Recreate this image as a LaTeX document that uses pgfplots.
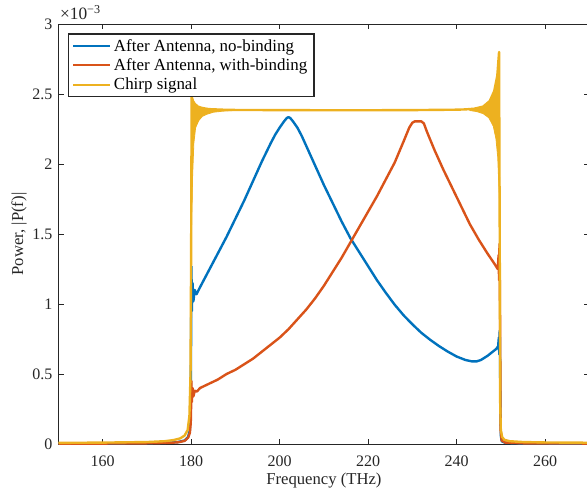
\documentclass[border=0pt]{standalone}
\usepackage{fontspec}
\setmainfont{Liberation Serif}
\usepackage{pgfplots}
\pgfplotsset{compat=1.18}
\definecolor{mblue}{rgb}{0,0.447,0.741}
\definecolor{morange}{rgb}{0.850,0.325,0.098}
\definecolor{myellow}{rgb}{0.929,0.694,0.125}
\definecolor{axgray}{rgb}{0.15,0.15,0.15}
\begin{document}
\begin{tikzpicture}
\begin{axis}[
  name=ax,
  at={(0,0)}, anchor=south west,
  scale only axis, width=398.1pt, height=315pt,
  xmin=150, xmax=270, ymin=0, ymax=3,
  xtick={160,180,200,220,240,260},
  ytick={0,0.5,1,1.5,2,2.5,3},
  yticklabels={0,0.5,1,1.5,2,2.5,3},
  tick align=inside, tick pos=both,
  major tick length=4pt,
  axis line style={axgray, line width=0.6pt},
  every tick/.style={axgray, line width=0.6pt},
  /pgf/number format/assume math mode=true,
  tick label style={font=\fontsize{12}{14}\selectfont, text=axgray},
  xticklabel style={yshift=-5pt},
  yticklabel style={xshift=-1pt},
  xlabel={Frequency (THz)},
  ylabel={Power, |P(f)|},
  label style={font=\fontsize{12.5}{15}\selectfont, text=axgray},
  xlabel style={at={(axis description cs:0.5,-0.087)}, anchor=center},
  ylabel style={at={(axis description cs:-0.0744,0.5)}, anchor=center},
  legend style={at={(0,1)}, anchor=north west, xshift=6.9pt, yshift=-7pt,
    draw=axgray, line width=0.9pt, fill=white,
    font=\fontsize{12.7}{15}\selectfont, text=black,
    inner xsep=3pt, inner ysep=2pt, row sep=0pt},
  legend cell align=left,
  legend image code/.code={\draw[#1, line width=1.5pt] (0pt,0pt) -- (27.75pt,0pt);},
  clip=true,
]
% no-binding
\addplot[mblue, line width=1.8pt, line join=round] coordinates {
(150,0.003)(160,0.004)(170,0.006)(175,0.009)(177,0.014)(178.5,0.025)(179.3,0.05)(179.7,0.1)(179.9,0.3)(180.0,0.9)(180.05,1.27)(180.15,0.95)(180.3,1.15)(180.5,1.02)(180.8,1.10)(181.2,1.07)(182,1.12)(184,1.24)(186,1.36)(188,1.48)(190,1.61)(192,1.74)(194,1.88)(196,2.02)(198,2.15)(199,2.21)(200,2.26)(201,2.305)(201.6,2.328)(202,2.335)(202.4,2.328)(203,2.305)(204,2.26)(205,2.20)(206,2.13)(208,1.99)(210,1.85)(212,1.72)(214,1.59)(216,1.47)(218,1.37)(220,1.27)(222,1.17)(224,1.08)(226,0.995)(228,0.92)(230,0.855)(232,0.795)(234,0.745)(236,0.70)(238,0.66)(240,0.625)(242,0.60)(243.5,0.59)(244.5,0.59)(245.5,0.60)(247,0.63)(248,0.655)(249,0.68)(249.4,0.70)(249.55,0.76)(249.65,0.64)(249.75,0.81)(249.82,0.62)(249.9,0.3)(250.0,0.06)(250.2,0.02)(251,0.008)(255,0.004)(270,0.002)
};
\addlegendentry{After Antenna, no-binding}
% with-binding
\addplot[morange, line width=1.8pt, line join=round] coordinates {
(150,0.002)(160,0.003)(170,0.005)(175,0.008)(177,0.012)(178.5,0.022)(179.3,0.045)(179.7,0.08)(179.9,0.15)(180.0,0.3)(180.05,0.45)(180.15,0.30)(180.3,0.40)(180.5,0.34)(180.8,0.38)(181.3,0.375)(182,0.40)(184,0.43)(186,0.46)(188,0.50)(190,0.53)(192,0.57)(194,0.61)(196,0.66)(198,0.71)(200,0.76)(202,0.82)(204,0.89)(206,0.96)(208,1.04)(210,1.13)(212,1.23)(214,1.33)(216,1.44)(218,1.55)(220,1.66)(222,1.77)(224,1.89)(226,2.01)(228,2.16)(229.3,2.26)(230,2.295)(230.6,2.305)(232,2.305)(232.6,2.29)(233.3,2.23)(235,2.10)(237,1.96)(239,1.83)(241,1.70)(243,1.57)(245,1.46)(247,1.36)(248.5,1.29)(249.3,1.25)(249.5,1.35)(249.6,1.17)(249.7,1.43)(249.78,1.12)(249.85,0.8)(249.95,0.1)(250.2,0.025)(251,0.01)(255,0.005)(270,0.003)
};
\addlegendentry{After Antenna, with-binding}
% chirp
\addplot[myellow, line width=1.8pt, line join=round] coordinates {
(150,0.008)(160,0.010)(170,0.014)(174,0.02)(176,0.028)(177.5,0.04)(178.5,0.06)(179.2,0.10)(179.6,0.2)(179.85,0.5)(180.0,1.5)(180.1,2.48)(180.4,2.45)(180.8,2.43)(181.5,2.41)(182.5,2.40)(184,2.392)(187,2.388)(190,2.386)(200,2.385)(210,2.384)(220,2.384)(230,2.385)(240,2.388)(242,2.39)(244,2.395)(246,2.41)(247.5,2.45)(248.5,2.52)(249.2,2.63)(249.6,2.80)(249.75,1.5)(249.85,0.3)(250.0,0.1)(250.3,0.05)(250.8,0.03)(252,0.02)(255,0.014)(260,0.011)(270,0.009)
};
\addlegendentry{Chirp signal}
\addplot[myellow, fill=myellow, line width=0.6pt, line join=round, forget plot] coordinates {
(180.05,2.2)(180.1,2.48)(180.4,2.45)(180.8,2.43)(181.5,2.41)(182.5,2.40)(184,2.392)(187,2.388)(190,2.386)(190,2.383)(187,2.377)(185,2.37)(183.5,2.355)(182.5,2.34)(181.7,2.31)(181,2.26)(180.6,2.15)(180.3,1.9)(180.05,1.5)
} -- cycle;
\addplot[myellow, fill=myellow, line width=0.6pt, line join=round, forget plot] coordinates {
(243,2.39)(245,2.397)(246.5,2.42)(247.7,2.46)(248.6,2.53)(249.2,2.63)(249.6,2.80)(249.75,1.7)(249.55,1.85)(249.3,2.05)(248.9,2.18)(248.3,2.27)(247.3,2.33)(246,2.36)(244.5,2.375)(243,2.382)
} -- cycle;
\end{axis}
\node[anchor=base west, inner sep=0pt, xshift=1pt, yshift=3.2pt, text=axgray,
  font=\fontsize{13}{15}\selectfont] at (ax.north west) {×10\textsuperscript{−3}};
\pgfresetboundingbox
\useasboundingbox (-43.875pt,-37.5pt) rectangle (396.375pt,333pt);
\end{tikzpicture}
\end{document}
